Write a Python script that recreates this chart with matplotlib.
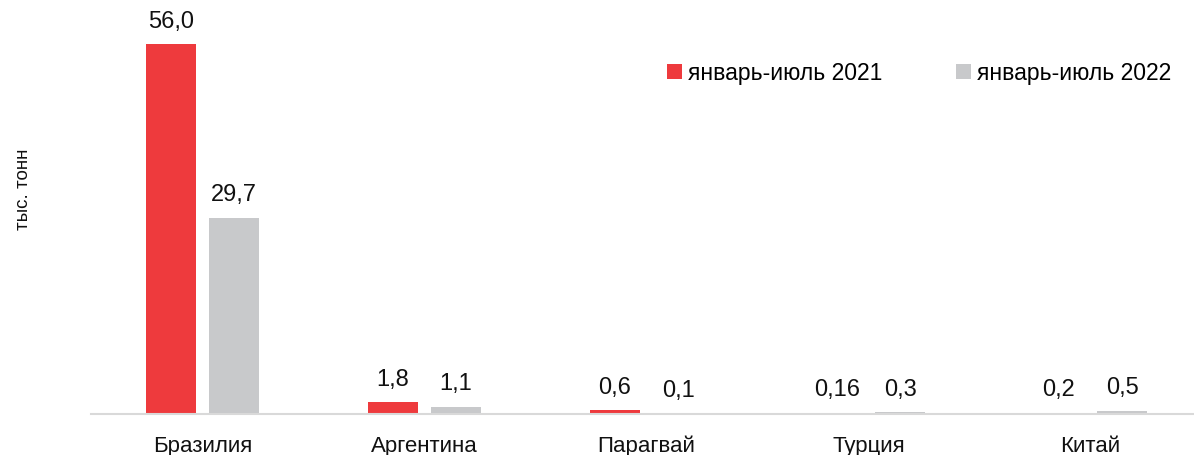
import matplotlib
matplotlib.use("Agg")
import matplotlib.pyplot as plt
import numpy as np

plt.rcParams['font.family'] = ['Liberation Sans', 'DejaVu Sans']

categories = ["Бразилия", "Аргентина", "Парагвай", "Турция", "Китай"]
values_2021 = [56.0, 1.8, 0.6, 0.16, 0.2]
values_2022 = [29.7, 1.1, 0.1, 0.3, 0.5]
labels_2021 = ["56,0", "1,8", "0,6", "0,16", "0,2"]
labels_2022 = ["29,7", "1,1", "0,1", "0,3", "0,5"]
series_names = ["январь-июль 2021", "январь-июль 2022"]

RED = "#EE3A3D"
GRAY = "#C8C9CB"

fig = plt.figure(figsize=(11.94, 4.56), dpi=100)
ax = fig.add_axes([91.5/1194, 41/456, (1194-91.5)/1194, (415-19)/456])

x = np.arange(len(categories))
w = 0.225
off = 0.142
b1 = ax.bar(x - off, values_2021, w, color=RED, label=series_names[0])
b2 = ax.bar(x + off, values_2022, w, color=GRAY, label=series_names[1])

for bars, labs in ((b1, labels_2021), (b2, labels_2022)):
    for r, t in zip(bars, labs):
        ax.annotate(t, (r.get_x() + r.get_width()/2, r.get_height()),
                    xytext=(0, 9), textcoords="offset points",
                    ha="center", va="bottom", fontsize=17, color="#111111")

ax.set_xlim(-0.5, 4.5 - (1201.5-1194)/222)
ax.set_ylim(0, 60)
ax.set_xticks(x)
ax.set_xticklabels(categories, fontsize=16, color="#111111")
ax.tick_params(axis='x', length=0, pad=15)
ax.set_yticks([])
for s in ("top", "right", "left"):
    ax.spines[s].set_visible(False)
ax.spines["bottom"].set_color("#D9D9D9")
ax.spines["bottom"].set_linewidth(1.5)

fig.text(23/1194, 1 - 189/456, "тыс. тонн", rotation=90, ha="center", va="center",
         fontsize=13.5, color="#111111")

leg = ax.legend(loc="center left", bbox_to_anchor=(667/1194, 1 - 74/456),
                bbox_transform=fig.transFigure, ncol=2, frameon=False,
                fontsize=16.5, handlelength=0.65, handleheight=0.65, handletextpad=0.25,
                columnspacing=3.25, borderaxespad=0, borderpad=0)

fig.savefig("out.png", dpi=100)
